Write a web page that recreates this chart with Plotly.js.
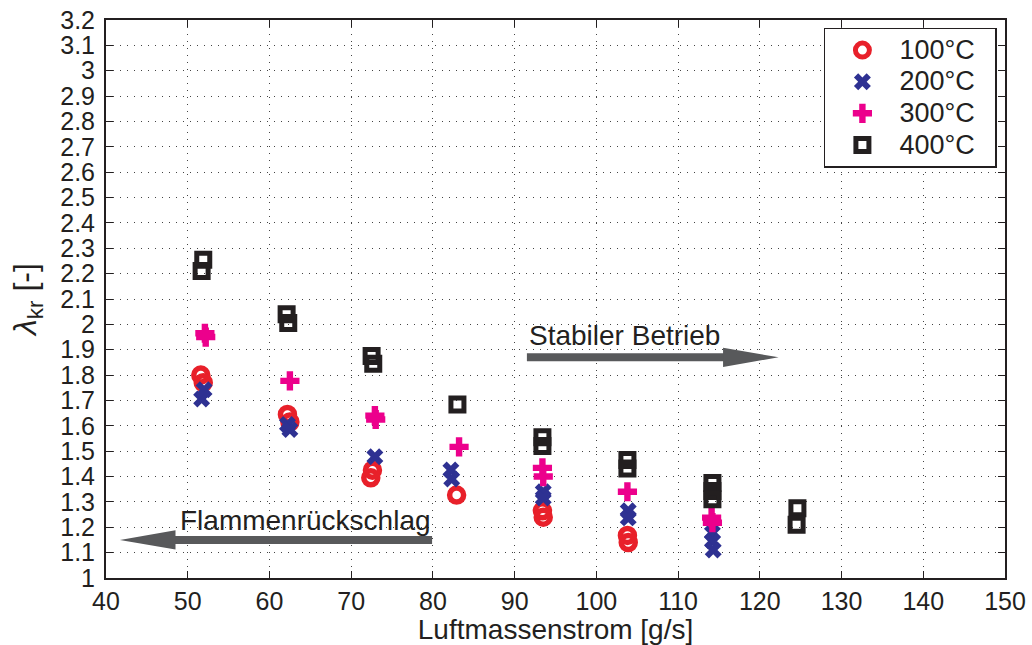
<!DOCTYPE html>
<html>
<head>
<meta charset="utf-8">
<script src="https://cdn.plot.ly/plotly-3.0.1.min.js"></script>
<style>html,body{margin:0;padding:0;background:#fff;}#chart{width:1032px;height:645px;}</style>
</head>
<body>
<div id="chart"></div>
<script>
// ---- data ----
const x100 = [51.6, 51.9, 62.2, 62.5, 72.4, 72.6, 82.9, 93.4, 93.5, 103.8, 103.9];
const y100 = [1.80, 1.77, 1.645, 1.615, 1.395, 1.425, 1.327, 1.265, 1.24, 1.168, 1.14];

const x200 = [51.7, 52.0, 62.2, 62.5, 72.9, 82.2, 82.3, 93.5, 93.5, 103.9, 103.9, 114.2, 114.2, 114.3];
const y200 = [1.706, 1.742, 1.605, 1.585, 1.478, 1.426, 1.39, 1.34, 1.315, 1.265, 1.237, 1.177, 1.146, 1.11];

const x300 = [52.1, 52.2, 62.5, 72.9, 73.0, 83.2, 93.4, 93.5, 103.8, 114.1, 114.2];
const y300 = [1.965, 1.95, 1.777, 1.64, 1.625, 1.517, 1.434, 1.40, 1.34, 1.238, 1.218];

const x400 = [51.9, 51.7, 62.1, 62.3, 72.5, 72.7, 83.0, 93.4, 93.4, 103.8, 103.8, 114.2, 114.2, 114.2, 124.6, 124.5];
const y400 = [2.255, 2.21, 2.04, 2.005, 1.875, 1.845, 1.684, 1.555, 1.52, 1.465, 1.432, 1.375, 1.343, 1.31, 1.275, 1.21];

const seriesNames = ['100°C', '200°C', '300°C', '400°C'];

const xTickVals = [40, 50, 60, 70, 80, 90, 100, 110, 120, 130, 140, 150];
const xTickText = ['40', '50', '60', '70', '80', '90', '100', '110', '120', '130', '140', '150'];
const yTickVals = [1, 1.1, 1.2, 1.3, 1.4, 1.5, 1.6, 1.7, 1.8, 1.9, 2, 2.1, 2.2, 2.3, 2.4, 2.5, 2.6, 2.7, 2.8, 2.9, 3, 3.1, 3.2];
const yTickText = ['1', '1.1', '1.2', '1.3', '1.4', '1.5', '1.6', '1.7', '1.8', '1.9', '2', '2.1', '2.2', '2.3', '2.4', '2.5', '2.6', '2.7', '2.8', '2.9', '3', '3.1', '3.2'];

// annotation arrows (data units)
const stabilText = 'Stabiler Betrieb';
const stabilArrow = {x0: 91.5, x1: 122.3, y: 1.87};
const flammText = 'Flammenrückschlag';
const flammArrow = {x0: 79.9, x1: 41.7, y: 1.15};

// ---- styling ----
const FONT = '"Liberation Sans", Arial, Helvetica, sans-serif';
const TXT = '#231f20';
const ARROW = '#58595b';
const legendName = n => '<span style="font-size:27px">' + n + '\u00a0\u00a0</span>';

const traces = [
  {x: x100, y: y100, name: legendName(seriesNames[0]), type: 'scatter', mode: 'markers',
   marker: {symbol: 'circle-open', size: 14, color: '#e8202a', line: {width: 5.5, color: '#e8202a'}}},
  {x: x200, y: y200, name: legendName(seriesNames[1]), type: 'scatter', mode: 'markers',
   marker: {symbol: 'x', size: 15, color: '#2e3192', line: {width: 0}}},
  {x: x300, y: y300, name: legendName(seriesNames[2]), type: 'scatter', mode: 'markers',
   marker: {symbol: 'cross', size: 16, color: '#ec008c', line: {width: 0}}},
  {x: x400, y: y400, name: legendName(seriesNames[3]), type: 'scatter', mode: 'markers',
   marker: {symbol: 'square-open', size: 13, color: TXT, line: {width: 5, color: TXT}}}
];

function arrowShapes(a) {
  const dir = Math.sign(a.x1 - a.x0);
  const headLen = 6.8;   // x units
  const headHalf = 0.038; // y units
  const base = a.x1 - dir * headLen;
  return [
    {type: 'line', xref: 'x', yref: 'y', x0: a.x0, x1: base + dir * 0.5, y0: a.y, y1: a.y,
     line: {color: ARROW, width: 8}},
    {type: 'path', xref: 'x', yref: 'y',
     path: `M ${base} ${a.y - headHalf} L ${a.x1} ${a.y} L ${base} ${a.y + headHalf} Z`,
     fillcolor: ARROW, line: {width: 0}}
  ];
}

const axisCommon = {
  showline: true, linecolor: TXT, linewidth: 2, mirror: 'ticks',
  ticks: 'inside', ticklen: 7, tickwidth: 1, tickcolor: TXT,
  showgrid: true, gridcolor: '#444', gridwidth: 1, griddash: '1px,6px',
  zeroline: false
};

const layout = {
  width: 1032, height: 645,
  margin: {l: 106, r: 27, t: 20, b: 67},
  paper_bgcolor: '#fff', plot_bgcolor: '#fff',
  font: {family: FONT, color: TXT},
  showlegend: true,
  xaxis: Object.assign({}, axisCommon, {
    range: [40, 150], tickvals: xTickVals, ticktext: xTickText,
    tickfont: {family: FONT, size: 25, color: TXT},
    ticklabelstandoff: 0,
    title: {text: 'Luftmassenstrom [g/s]', font: {family: FONT, size: 28, color: TXT}, standoff: 0}
  }),
  yaxis: Object.assign({}, axisCommon, {
    range: [1, 3.2], tickvals: yTickVals, ticktext: yTickText,
    tickfont: {family: FONT, size: 25, color: TXT},
    ticklabelstandoff: 4,
    title: {text: '<i>λ</i><sub>kr</sub> [-]', font: {family: FONT, size: 32, color: TXT}, standoff: 14}
  }),
  legend: {
    x: 0.991, xanchor: 'right', y: 0.986, yanchor: 'top',
    bgcolor: '#fff', bordercolor: TXT, borderwidth: 1.5,
    font: {family: FONT, size: 22, color: TXT},
    itemwidth: 64, tracegroupgap: 0
  },
  shapes: [].concat(arrowShapes(stabilArrow), arrowShapes(flammArrow)),
  annotations: [
    {x: stabilArrow.x0, y: 1.955, xref: 'x', yref: 'y', text: stabilText, showarrow: false,
     xanchor: 'left', yanchor: 'middle', font: {family: FONT, size: 28, color: TXT}},
    {x: 48.8, y: 1.225, xref: 'x', yref: 'y', text: flammText, showarrow: false,
     xanchor: 'left', yanchor: 'middle', font: {family: FONT, size: 28, color: TXT}}
  ]
};

Plotly.newPlot('chart', traces, layout, {displayModeBar: false, staticPlot: true});
</script>
</body>
</html>
